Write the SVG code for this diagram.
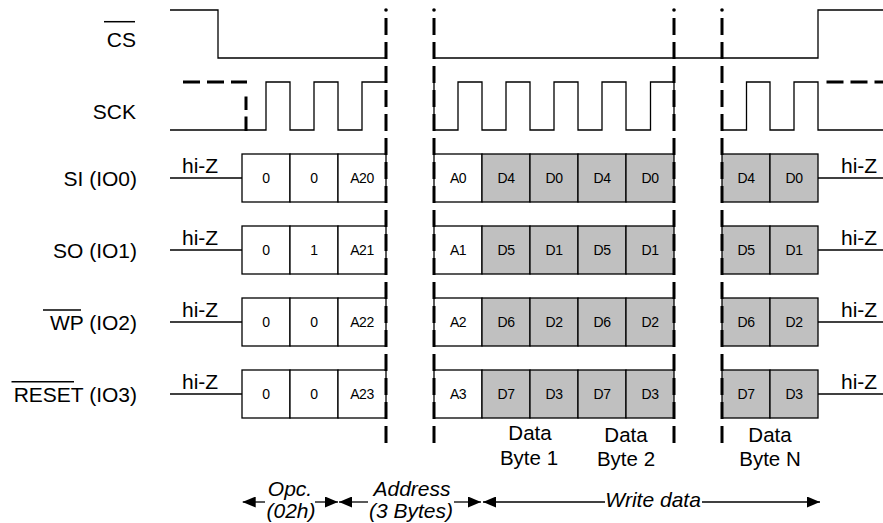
<svg xmlns="http://www.w3.org/2000/svg" width="883" height="523" viewBox="0 0 883 523">
<style>
text{font-family:"Liberation Sans",Arial,sans-serif;fill:#000}
.lbl{font-size:21px;text-anchor:end}
.hz{font-size:21px}
.c{font-size:14px;text-anchor:middle;letter-spacing:-0.5px}
.b{font-size:20.5px;text-anchor:middle}
.it{font-size:21px;font-style:italic;text-anchor:middle}
.sig{fill:none;stroke:#000;stroke-width:1.3}
.ol{stroke:#000;stroke-width:1.5}
.w{fill:#fff;stroke:#000;stroke-width:1.3}
.g{fill:#c0c0c0;stroke:#000;stroke-width:1.3}
.sep{stroke:#000;stroke-width:3;stroke-dasharray:17 7;fill:none}
.dsh{stroke:#000;stroke-width:3;stroke-dasharray:17 7;fill:none}
.arr{stroke:#000;stroke-width:1.3;fill:none}
</style>
<defs>
<marker id="ah" viewBox="0 0 13 11" refX="13" refY="5.5" markerWidth="13" markerHeight="11" markerUnits="userSpaceOnUse" orient="auto-start-reverse">
<path d="M0,0 L13,5.5 L0,11 z" fill="#000"/>
</marker>
</defs>
<rect width="883" height="523" fill="#fff"/>

<g id="cs">
<text class="lbl" x="136" y="47">CS</text>
<line class="ol" x1="104" y1="21.7" x2="135" y2="21.7"/>
<path class="sig" d="M170,10 H218 V58 H386"/>
<path class="sig" d="M434,58 H818 V10 H883"/>
</g>

<g id="sck">
<text class="lbl" x="136" y="119">SCK</text>
<path class="sig" d="M170,130 H266 V82 H290 V130 H314 V82 H338 V130 H362 V82 H386"/>
<path class="sig" d="M434,82 V130 H458 V82 H482 V130 H506 V82 H530 V130 H554 V82 H578 V130 H602 V82 H626 V130 H650.5 V82 H674 V130"/>
<path class="sig" d="M722,130 H746.5 V82 H770 V130 H794 V82 H818 V130 H883"/>
<line class="dsh" x1="183" y1="82" x2="247" y2="82"/>
<path d="M246,96.5 V110 M246,116.5 V131" stroke="#000" stroke-width="3" fill="none"/>
<line class="dsh" x1="826.5" y1="82" x2="883" y2="82"/>
</g>

<g id="si">
<text class="lbl" x="137" y="186">SI (IO0)</text>
<text class="hz" x="182" y="173">hi-Z</text>
<line class="sig" x1="170" y1="178" x2="242" y2="178"/>
<rect class="w" x="242" y="154" width="48" height="48"/>
<rect class="w" x="290" y="154" width="48" height="48"/>
<rect class="w" x="338" y="154" width="48" height="48"/>
<rect class="w" x="434" y="154" width="48" height="48"/>
<rect class="g" x="482" y="154" width="48" height="48"/>
<rect class="g" x="530" y="154" width="48" height="48"/>
<rect class="g" x="578" y="154" width="48" height="48"/>
<rect class="g" x="626" y="154" width="48" height="48"/>
<rect class="g" x="722" y="154" width="48" height="48"/>
<rect class="g" x="770" y="154" width="48" height="48"/>
<line class="sig" x1="818" y1="178" x2="883" y2="178"/>
<text class="hz" x="841" y="173">hi-Z</text>
<text class="c" x="266" y="183">0</text>
<text class="c" x="314" y="183">0</text>
<text class="c" x="362" y="183">A20</text>
<text class="c" x="458" y="183">A0</text>
<text class="c" x="506" y="183">D4</text>
<text class="c" x="554" y="183">D0</text>
<text class="c" x="602" y="183">D4</text>
<text class="c" x="650" y="183">D0</text>
<text class="c" x="746" y="183">D4</text>
<text class="c" x="794" y="183">D0</text>
</g>

<g id="so">
<text class="lbl" x="137" y="258">SO (IO1)</text>
<text class="hz" x="182" y="245">hi-Z</text>
<line class="sig" x1="170" y1="250" x2="242" y2="250"/>
<rect class="w" x="242" y="226" width="48" height="48"/>
<rect class="w" x="290" y="226" width="48" height="48"/>
<rect class="w" x="338" y="226" width="48" height="48"/>
<rect class="w" x="434" y="226" width="48" height="48"/>
<rect class="g" x="482" y="226" width="48" height="48"/>
<rect class="g" x="530" y="226" width="48" height="48"/>
<rect class="g" x="578" y="226" width="48" height="48"/>
<rect class="g" x="626" y="226" width="48" height="48"/>
<rect class="g" x="722" y="226" width="48" height="48"/>
<rect class="g" x="770" y="226" width="48" height="48"/>
<line class="sig" x1="818" y1="250" x2="883" y2="250"/>
<text class="hz" x="841" y="245">hi-Z</text>
<text class="c" x="266" y="255">0</text>
<text class="c" x="314" y="255">1</text>
<text class="c" x="362" y="255">A21</text>
<text class="c" x="458" y="255">A1</text>
<text class="c" x="506" y="255">D5</text>
<text class="c" x="554" y="255">D1</text>
<text class="c" x="602" y="255">D5</text>
<text class="c" x="650" y="255">D1</text>
<text class="c" x="746" y="255">D5</text>
<text class="c" x="794" y="255">D1</text>
</g>

<g id="wp">
<text class="lbl" x="137" y="330">WP (IO2)</text>
<line class="ol" x1="43" y1="310" x2="81" y2="310"/>
<text class="hz" x="182" y="317">hi-Z</text>
<line class="sig" x1="170" y1="322" x2="242" y2="322"/>
<rect class="w" x="242" y="298" width="48" height="48"/>
<rect class="w" x="290" y="298" width="48" height="48"/>
<rect class="w" x="338" y="298" width="48" height="48"/>
<rect class="w" x="434" y="298" width="48" height="48"/>
<rect class="g" x="482" y="298" width="48" height="48"/>
<rect class="g" x="530" y="298" width="48" height="48"/>
<rect class="g" x="578" y="298" width="48" height="48"/>
<rect class="g" x="626" y="298" width="48" height="48"/>
<rect class="g" x="722" y="298" width="48" height="48"/>
<rect class="g" x="770" y="298" width="48" height="48"/>
<line class="sig" x1="818" y1="322" x2="883" y2="322"/>
<text class="hz" x="841" y="317">hi-Z</text>
<text class="c" x="266" y="327">0</text>
<text class="c" x="314" y="327">0</text>
<text class="c" x="362" y="327">A22</text>
<text class="c" x="458" y="327">A2</text>
<text class="c" x="506" y="327">D6</text>
<text class="c" x="554" y="327">D2</text>
<text class="c" x="602" y="327">D6</text>
<text class="c" x="650" y="327">D2</text>
<text class="c" x="746" y="327">D6</text>
<text class="c" x="794" y="327">D2</text>
</g>

<g id="reset">
<text class="lbl" x="137" y="402">RESET (IO3)</text>
<line class="ol" x1="11.5" y1="381.7" x2="74" y2="381.7"/>
<text class="hz" x="182" y="389">hi-Z</text>
<line class="sig" x1="170" y1="394" x2="242" y2="394"/>
<rect class="w" x="242" y="370" width="48" height="48"/>
<rect class="w" x="290" y="370" width="48" height="48"/>
<rect class="w" x="338" y="370" width="48" height="48"/>
<rect class="w" x="434" y="370" width="48" height="48"/>
<rect class="g" x="482" y="370" width="48" height="48"/>
<rect class="g" x="530" y="370" width="48" height="48"/>
<rect class="g" x="578" y="370" width="48" height="48"/>
<rect class="g" x="626" y="370" width="48" height="48"/>
<rect class="g" x="722" y="370" width="48" height="48"/>
<rect class="g" x="770" y="370" width="48" height="48"/>
<line class="sig" x1="818" y1="394" x2="883" y2="394"/>
<text class="hz" x="841" y="389">hi-Z</text>
<text class="c" x="266" y="399">0</text>
<text class="c" x="314" y="399">0</text>
<text class="c" x="362" y="399">A23</text>
<text class="c" x="458" y="399">A3</text>
<text class="c" x="506" y="399">D7</text>
<text class="c" x="554" y="399">D3</text>
<text class="c" x="602" y="399">D7</text>
<text class="c" x="650" y="399">D3</text>
<text class="c" x="746" y="399">D7</text>
<text class="c" x="794" y="399">D3</text>
</g>

<g id="separators">
<circle cx="386" cy="10" r="1.8" fill="#000"/>
<circle cx="434" cy="10" r="1.8" fill="#000"/>
<circle cx="674" cy="10" r="1.8" fill="#000"/>
<circle cx="722" cy="10" r="1.8" fill="#000"/>
<line class="sep" x1="386" y1="18" x2="386" y2="443"/>
<line class="sep" x1="434" y1="18" x2="434" y2="443"/>
<line class="sep" x1="674" y1="18" x2="674" y2="443"/>
<line class="sep" x1="722" y1="18" x2="722" y2="443"/>
</g>

<g id="bytes">
<text class="b" x="530" y="439.5">Data</text>
<text class="b" x="529" y="465">Byte 1</text>
<text class="b" x="626" y="442">Data</text>
<text class="b" x="626" y="466">Byte 2</text>
<text class="b" x="770" y="442">Data</text>
<text class="b" x="770" y="466">Byte N</text>
</g>

<g id="connectors">
<line class="arr" x1="242.7" y1="502" x2="265" y2="502" marker-start="url(#ah)"/>
<line class="arr" x1="315" y1="502" x2="338" y2="502" marker-end="url(#ah)"/>
<line class="arr" x1="339" y1="502" x2="368" y2="502" marker-start="url(#ah)"/>
<line class="arr" x1="454" y1="502" x2="481" y2="502" marker-end="url(#ah)"/>
<line class="arr" x1="483" y1="502" x2="605" y2="502" marker-start="url(#ah)"/>
<line class="arr" x1="702" y1="502" x2="820" y2="502" marker-end="url(#ah)"/>
</g>

<g id="phases">
<text class="it" x="290" y="496">Opc.</text>
<text class="it" x="291" y="518">(02h)</text>
<text class="it" x="412" y="496">Address</text>
<text class="it" x="411" y="518">(3 Bytes)</text>
<text class="it" x="653" y="507">Write data</text>
</g>
</svg>
